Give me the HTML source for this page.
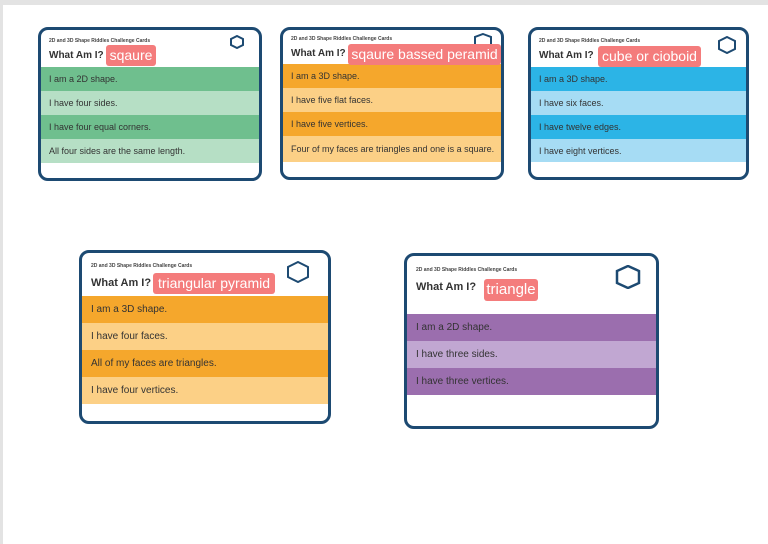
<!DOCTYPE html>
<html><head><meta charset="utf-8"><style>
body{margin:0;width:768px;height:544px;background:#fff;position:relative;overflow:hidden;font-family:"Liberation Sans",sans-serif}
.top{position:absolute;left:0;top:0;width:768px;height:5px;background:#e3e3e3}
.lft{position:absolute;left:0;top:0;width:3px;height:544px;background:#e3e3e3}
.card{position:absolute;border:3px solid #1d4a72;border-radius:10px;background:#fff;overflow:hidden;box-sizing:border-box}
.sm{position:absolute;font-size:5px;font-weight:bold;color:#444}
.t{position:absolute;font-weight:bold;color:#333}
.lab{position:absolute;background:#f47c7c;color:#fff;border-radius:3px;text-align:center;white-space:nowrap}
.row{position:absolute;left:0;right:0;color:#333;font-family:"Liberation Sans",sans-serif;box-sizing:border-box}
.hex{position:absolute}
</style></head><body>
<div class="top"></div><div class="lft"></div>

<div class="card" style="left:38px;top:27px;width:224px;height:154px">
<div class="sm" style="left:8px;top:8px">2D and 3D Shape Riddles Challenge Cards</div>
<div class="t" style="left:8px;top:20px;font-size:10px">What Am I?</div>
<svg class="hex" style="left:189px;top:5px" width="14" height="14"><polygon points="7,1 13,4 13,10 7,13 1,10 1,4" fill="none" stroke="#1d4a72" stroke-width="2"/></svg>
<div class="row" style="top:37px;height:24px;background:#6fbf8e;font-size:9px;padding:7px 0 0 8px">I am a 2D shape.</div>
<div class="row" style="top:61px;height:24px;background:#b6dfc5;font-size:9px;padding:7px 0 0 8px">I have four sides.</div>
<div class="row" style="top:85px;height:24px;background:#6fbf8e;font-size:9px;padding:7px 0 0 8px">I have four equal corners.</div>
<div class="row" style="top:109px;height:24px;background:#b6dfc5;font-size:9px;padding:7px 0 0 8px">All four sides are the same length.</div>
</div>
<div class="lab" style="left:106px;top:45px;width:50px;height:21px;font-size:14px;line-height:21px">sqaure</div>

<div class="card" style="left:280px;top:27px;width:224px;height:153px">
<div class="sm" style="left:8px;top:6px">2D and 3D Shape Riddles Challenge Cards</div>
<div class="t" style="left:8px;top:18px;font-size:10px">What Am I?</div>
<svg class="hex" style="left:190px;top:3px" width="20" height="16"><polygon points="10,1 18,4 18,12 10,15 2,12 2,4" fill="none" stroke="#1d4a72" stroke-width="2"/></svg>
<div class="row" style="top:34px;height:24px;background:#f5a72c;font-size:9px;padding:7px 0 0 8px">I am a 3D shape.</div>
<div class="row" style="top:58px;height:24px;background:#fcd086;font-size:9px;padding:7px 0 0 8px">I have five flat faces.</div>
<div class="row" style="top:82px;height:24px;background:#f5a72c;font-size:9px;padding:7px 0 0 8px">I have five vertices.</div>
<div class="row" style="top:106px;height:26px;background:#fcd086;font-size:9px;padding:8px 0 0 8px">Four of my faces are triangles and one is a square.</div>
</div>
<div class="lab" style="left:348px;top:44px;width:153px;height:21px;font-size:14px;line-height:21px">sqaure bassed peramid</div>

<div class="card" style="left:528px;top:27px;width:221px;height:153px">
<div class="sm" style="left:8px;top:8px">2D and 3D Shape Riddles Challenge Cards</div>
<div class="t" style="left:8px;top:20px;font-size:10px">What Am I?</div>
<svg class="hex" style="left:186px;top:6px" width="20" height="18"><polygon points="10,1 18,5 18,13 10,17 2,13 2,5" fill="none" stroke="#1d4a72" stroke-width="2"/></svg>
<div class="row" style="top:37px;height:24px;background:#2cb4e6;font-size:9px;padding:7px 0 0 8px">I am a 3D shape.</div>
<div class="row" style="top:61px;height:24px;background:#a6dcf4;font-size:9px;padding:7px 0 0 8px">I have six faces.</div>
<div class="row" style="top:85px;height:24px;background:#2cb4e6;font-size:9px;padding:7px 0 0 8px">I have twelve edges.</div>
<div class="row" style="top:109px;height:23px;background:#a6dcf4;font-size:9px;padding:7px 0 0 8px">I have eight vertices.</div>
</div>
<div class="lab" style="left:598px;top:46px;width:103px;height:21px;font-size:14px;line-height:21px">cube or cioboid</div>

<div class="card" style="left:79px;top:250px;width:252px;height:174px">
<div class="sm" style="left:9px;top:10px">2D and 3D Shape Riddles Challenge Cards</div>
<div class="t" style="left:9px;top:24px;font-size:11px">What Am I?</div>
<svg class="hex" style="left:204px;top:8px" width="24" height="22"><polygon points="12,1 22,6 22,16 12,21 2,16 2,6" fill="none" stroke="#1d4a72" stroke-width="2"/></svg>
<div class="row" style="top:43px;height:27px;background:#f5a72c;font-size:10px;padding:8px 0 0 9px">I am a 3D shape.</div>
<div class="row" style="top:70px;height:27px;background:#fcd086;font-size:10px;padding:8px 0 0 9px">I have four faces.</div>
<div class="row" style="top:97px;height:27px;background:#f5a72c;font-size:10px;padding:8px 0 0 9px">All of my faces are triangles.</div>
<div class="row" style="top:124px;height:27px;background:#fcd086;font-size:10px;padding:8px 0 0 9px">I have four vertices.</div>
</div>
<div class="lab" style="left:153px;top:273px;width:122px;height:21px;font-size:14px;line-height:21px">triangular pyramid</div>

<div class="card" style="left:404px;top:253px;width:255px;height:176px">
<div class="sm" style="left:9px;top:11px">2D and 3D Shape Riddles Challenge Cards</div>
<div class="t" style="left:9px;top:25px;font-size:11px">What Am I?</div>
<svg class="hex" style="left:208px;top:9px" width="26" height="24"><polygon points="13,1 24,6 24,18 13,23 2,18 2,6" fill="none" stroke="#1d4a72" stroke-width="2.5"/></svg>
<div class="row" style="top:58px;height:27px;background:#9b6eae;font-size:10px;padding:8px 0 0 9px">I am a 2D shape.</div>
<div class="row" style="top:85px;height:27px;background:#c1a7d2;font-size:10px;padding:8px 0 0 9px">I have three sides.</div>
<div class="row" style="top:112px;height:27px;background:#9b6eae;font-size:10px;padding:8px 0 0 9px">I have three vertices.</div>
</div>
<div class="lab" style="left:484px;top:279px;width:54px;height:22px;font-size:15px;line-height:22px">triangle</div>
</body></html>
